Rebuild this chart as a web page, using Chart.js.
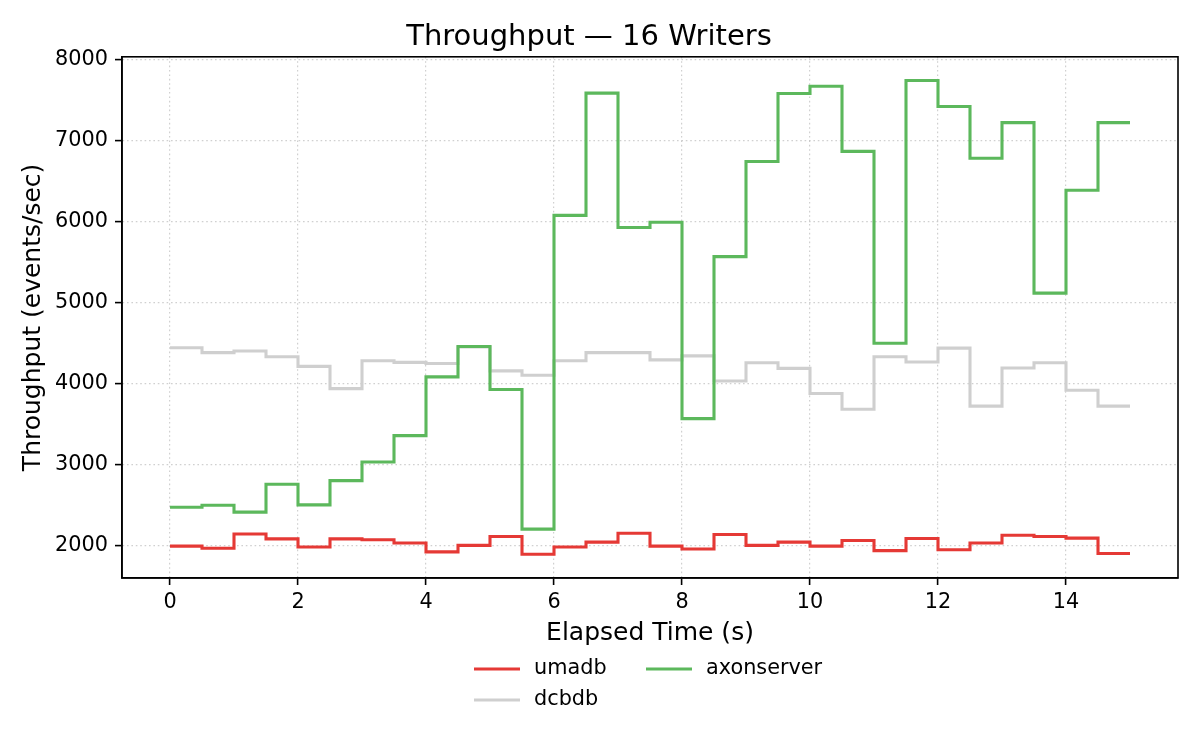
<!DOCTYPE html>
<html>
<head>
<meta charset="utf-8">
<script src="https://cdn.jsdelivr.net/npm/chart.js@4/dist/chart.umd.min.js"></script>
<style>
  html, body { margin: 0; padding: 0; background: #fff; }
  #wrap { width: 1200px; height: 750px; }
</style>
</head>
<body>
<div id="wrap"><canvas id="c" width="1200" height="750"></canvas></div>
<script>
const times = [0, 0.5, 1, 1.5, 2, 2.5, 3, 3.5, 4, 4.5, 5, 5.5, 6, 6.5, 7, 7.5, 8, 8.5, 9, 9.5, 10, 10.5, 11, 11.5, 12, 12.5, 13, 13.5, 14, 14.5, 15];
const umadb = [1990, 1965, 2140, 2080, 1980, 2080, 2070, 2030, 1920, 2000, 2110, 1890, 1980, 2040, 2150, 1990, 1955, 2135, 2000, 2040, 1990, 2060, 1935, 2085, 1945, 2030, 2125, 2110, 2090, 1900, 1900];
const dcbdb = [4440, 4380, 4400, 4330, 4210, 3935, 4280, 4260, 4245, 4450, 4155, 4100, 4280, 4380, 4380, 4290, 4340, 4030, 4255, 4185, 3875, 3680, 4330, 4265, 4435, 3720, 4190, 4255, 3915, 3720, 3720];
const axonserver = [2470, 2495, 2410, 2755, 2500, 2800, 3030, 3355, 4080, 4455, 3925, 2200, 6075, 7585, 5925, 5990, 3565, 5565, 6740, 7580, 7670, 6865, 4495, 7740, 7420, 6780, 7220, 5115, 6385, 7220, 7220];
const seriesNames = ['umadb', 'dcbdb', 'axonserver'];
const seriesColors = ['#e53935', '#cfcfcf', '#5cb85c'];
const xTickValues = [0, 2, 4, 6, 8, 10, 12, 14];
const yTickValues = [2000, 3000, 4000, 5000, 6000, 7000, 8000];

const FONT = "'DejaVu Sans', 'Liberation Sans', sans-serif";
Chart.defaults.font.family = FONT;
Chart.defaults.color = '#000';

function pts(vals) { return times.map((t, i) => ({ x: t, y: vals[i] })); }

const allSeries = [umadb, dcbdb, axonserver];
const datasets = allSeries.map((vals, i) => ({
  label: seriesNames[i],
  data: pts(vals),
  borderColor: seriesColors[i],
  backgroundColor: seriesColors[i],
  borderWidth: 3.1,
  stepped: 'before',
  pointRadius: 0,
  pointHoverRadius: 0,
  fill: false,
  borderJoinStyle: 'miter',
  borderCapStyle: 'butt',
  order: 3 - i
}));

const framePlugin = {
  id: 'frame',
  afterDatasetsDraw(chart) {
    const { ctx, chartArea: a } = chart;
    ctx.save();
    ctx.strokeStyle = '#000';
    ctx.lineWidth = 1.6;
    ctx.strokeRect(a.left, a.top, a.right - a.left, a.bottom - a.top);
    ctx.restore();
  }
};

const legendPlugin = {
  id: 'customLegend',
  afterDraw(chart) {
    const { ctx } = chart;
    const items = [
      { i: 0, x: 474, y: 669 },
      { i: 2, x: 646, y: 669 },
      { i: 1, x: 474, y: 700 }
    ];
    ctx.save();
    ctx.font = "20.8px " + FONT;
    ctx.textBaseline = 'middle';
    ctx.textAlign = 'left';
    items.forEach(it => {
      ctx.strokeStyle = seriesColors[it.i];
      ctx.lineWidth = 3.1;
      ctx.beginPath();
      ctx.moveTo(it.x, it.y);
      ctx.lineTo(it.x + 46, it.y);
      ctx.stroke();
      ctx.fillStyle = '#000';
      ctx.fillText(seriesNames[it.i], it.x + 60, it.y);
    });
    ctx.restore();
  }
};

const gridCommon = {
  color: 'rgba(176,176,176,0.6)',
  lineWidth: 1.2,
  drawTicks: true,
  tickLength: 7,
  tickColor: '#000',
  tickWidth: 1.6
};

new Chart(document.getElementById('c'), {
  type: 'line',
  data: { datasets },
  options: {
    responsive: false,
    devicePixelRatio: 1,
    animation: false,
    events: [],
    layout: { padding: { left: 0, right: 22, top: 0, bottom: 100 } },
    plugins: {
      legend: { display: false },
      tooltip: { enabled: false },
      title: {
        display: true,
        text: 'Throughput — 16 Writers',
        font: { size: 29, weight: 'normal', family: FONT },
        color: '#000',
        padding: { top: 20, bottom: 2 }
      }
    },
    scales: {
      x: {
        type: 'linear',
        min: -0.75,
        max: 15.75,
        afterFit(scale) { scale.height = 72; },
        afterBuildTicks(scale) { scale.ticks = xTickValues.map(v => ({ value: v })); },
        ticks: {
          padding: 5,
          font: { size: 20.8 },
          color: '#000',
          maxRotation: 0,
          autoSkip: false,
          callback: (v) => String(v)
        },
        grid: gridCommon,
        border: { display: true, color: '#000', width: 1.6, dash: [1.6, 2.8] },
        title: {
          display: true,
          text: 'Elapsed Time (s)',
          font: { size: 25 },
          color: '#000',
          padding: { top: 0, bottom: 2 }
        }
      },
      y: {
        type: 'linear',
        min: 1597,
        max: 8033,
        afterFit(scale) { scale.width = 122; },
        afterBuildTicks(scale) { scale.ticks = yTickValues.map(v => ({ value: v })); },
        ticks: {
          padding: 7,
          font: { size: 20.8 },
          color: '#000',
          autoSkip: false,
          callback: (v) => String(v)
        },
        grid: gridCommon,
        border: { display: true, color: '#000', width: 1.6, dash: [1.6, 2.8] },
        title: {
          display: true,
          text: 'Throughput (events/sec)',
          font: { size: 25 },
          color: '#000',
          padding: { top: 18, bottom: 0 }
        }
      }
    }
  },
  plugins: [framePlugin, legendPlugin]
});
</script>
</body>
</html>
